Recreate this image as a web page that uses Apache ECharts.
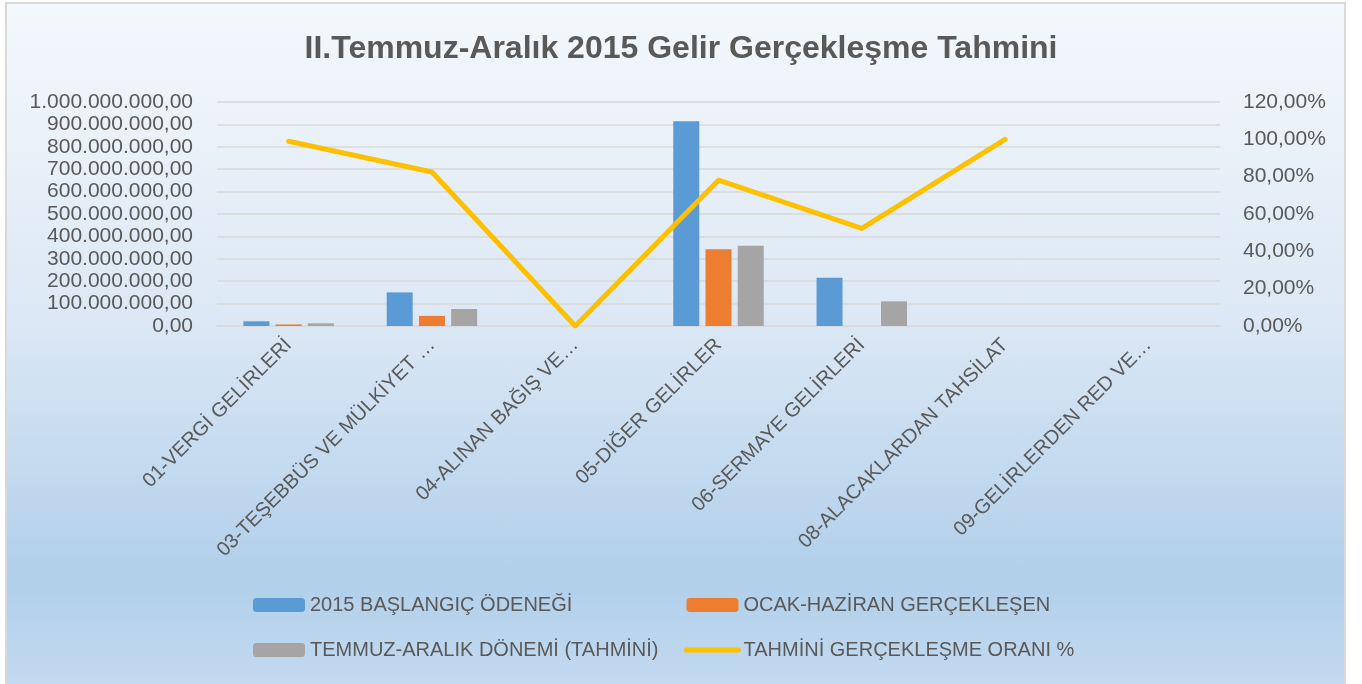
<!DOCTYPE html>
<html>
<head>
<meta charset="utf-8">
<script src="https://cdn.jsdelivr.net/npm/echarts@6/dist/echarts.min.js"></script>
<style>
html,body{margin:0;padding:0;background:#ffffff;width:1362px;height:684px;overflow:hidden;}
#frame{position:absolute;left:5px;top:2px;width:1337px;height:700px;border:2px solid #D9D9D9;
background:linear-gradient(to bottom,#F4F8FC 0%,#DCE8F5 45%,#B1CFEA 82%,#C6DCF1 100%);}
#chart{position:absolute;left:0;top:0;width:1362px;height:684px;}
</style>
</head>
<body>
<div id="frame"></div>
<div id="chart"></div>
<script>
const titleText = 'II.Temmuz-Aralık 2015 Gelir Gerçekleşme Tahmini';
const categories = ['01-VERGİ GELİRLERİ','03-TEŞEBBÜS VE MÜLKİYET …','04-ALINAN BAĞIŞ VE…','05-DİĞER GELİRLER','06-SERMAYE GELİRLERİ','08-ALACAKLARDAN TAHSİLAT','09-GELİRLERDEN RED VE…'];
const seriesNames = ['2015 BAŞLANGIÇ ÖDENEĞİ','OCAK-HAZİRAN GERÇEKLEŞEN','TEMMUZ-ARALIK DÖNEMİ (TAHMİNİ)','TAHMİNİ GERÇEKLEŞME ORANI %'];
const baslangic = [21000000, 150000000, 0, 914000000, 215000000, 0, 0];
const ocakHaziran = [7000000, 45000000, 0, 343000000, 0, 0, 0];
const temmuzAralik = [12000000, 76000000, 0, 358000000, 110000000, 0, 0];
const oran = [0.99, 0.825, 0, 0.781, 0.523, 1.0, null];

function fmtTR(v){
  const s = Math.round(v).toString().replace(/\B(?=(\d{3})+(?!\d))/g,'.');
  return s + ',00';
}
function fmtPct(v){
  return (v*100).toFixed(2).replace('.',',') + '%';
}
const txt = '#595959';
const ff = '"Liberation Sans", Arial, sans-serif';
const chart = echarts.init(document.getElementById('chart'), null, {renderer:'canvas'});
chart.setOption({
  animation:false,
  backgroundColor:'transparent',
  textStyle:{fontFamily:ff},
  title:{text:titleText,left:'center',top:28,textStyle:{color:txt,fontSize:32,fontWeight:'bold',fontFamily:ff}},
  legend:[
    {orient:'vertical',left:253,top:595,padding:0,itemWidth:52,itemHeight:14,itemGap:25,
     data:[seriesNames[0],seriesNames[2]],
     textStyle:{color:txt,fontSize:20,lineHeight:20,fontFamily:ff}},
    {orient:'vertical',left:684,top:595,padding:0,itemWidth:52,itemHeight:14,itemGap:25,
     data:[seriesNames[1],{name:seriesNames[3],itemStyle:{opacity:0},lineStyle:{width:5,cap:'round',color:'#FFC000'}}],
     textStyle:{color:txt,fontSize:20,lineHeight:20,fontFamily:ff}}
  ],
  grid:{left:217,right:142,top:102,bottom:358,containLabel:false},
  xAxis:{type:'category',data:categories,
    axisLine:{show:true,lineStyle:{color:'#D9D9D9',width:1.5}},
    axisTick:{show:false},
    axisLabel:{rotate:45,interval:0,margin:16,color:txt,fontSize:20,fontFamily:ff}},
  yAxis:[
    {type:'value',min:0,max:1000000000,interval:100000000,
     axisLine:{show:false},axisTick:{show:false},
     splitLine:{lineStyle:{color:'#D9D9D9',width:1.5}},
     axisLabel:{margin:24,color:txt,fontSize:21,fontFamily:ff,formatter:fmtTR}},
    {type:'value',min:0,max:1.2,interval:0.2,position:'right',
     axisLine:{show:false},axisTick:{show:false},splitLine:{show:false},
     axisLabel:{margin:23,color:txt,fontSize:21,fontFamily:ff,formatter:fmtPct}}
  ],
  series:[
    {name:seriesNames[0],type:'bar',data:baslangic,barWidth:26,barGap:'24%',itemStyle:{color:'#5B9BD5'}},
    {name:seriesNames[1],type:'bar',data:ocakHaziran,barWidth:26,barGap:'24%',itemStyle:{color:'#ED7D31'}},
    {name:seriesNames[2],type:'bar',data:temmuzAralik,barWidth:26,barGap:'24%',itemStyle:{color:'#A5A5A5'}},
    {name:seriesNames[3],type:'line',yAxisIndex:1,data:oran,symbol:'none',connectNulls:false,
     lineStyle:{color:'#FFC000',width:5,cap:'round',join:'round'},itemStyle:{color:'#FFC000'}}
  ]
});
</script>
</body>
</html>
